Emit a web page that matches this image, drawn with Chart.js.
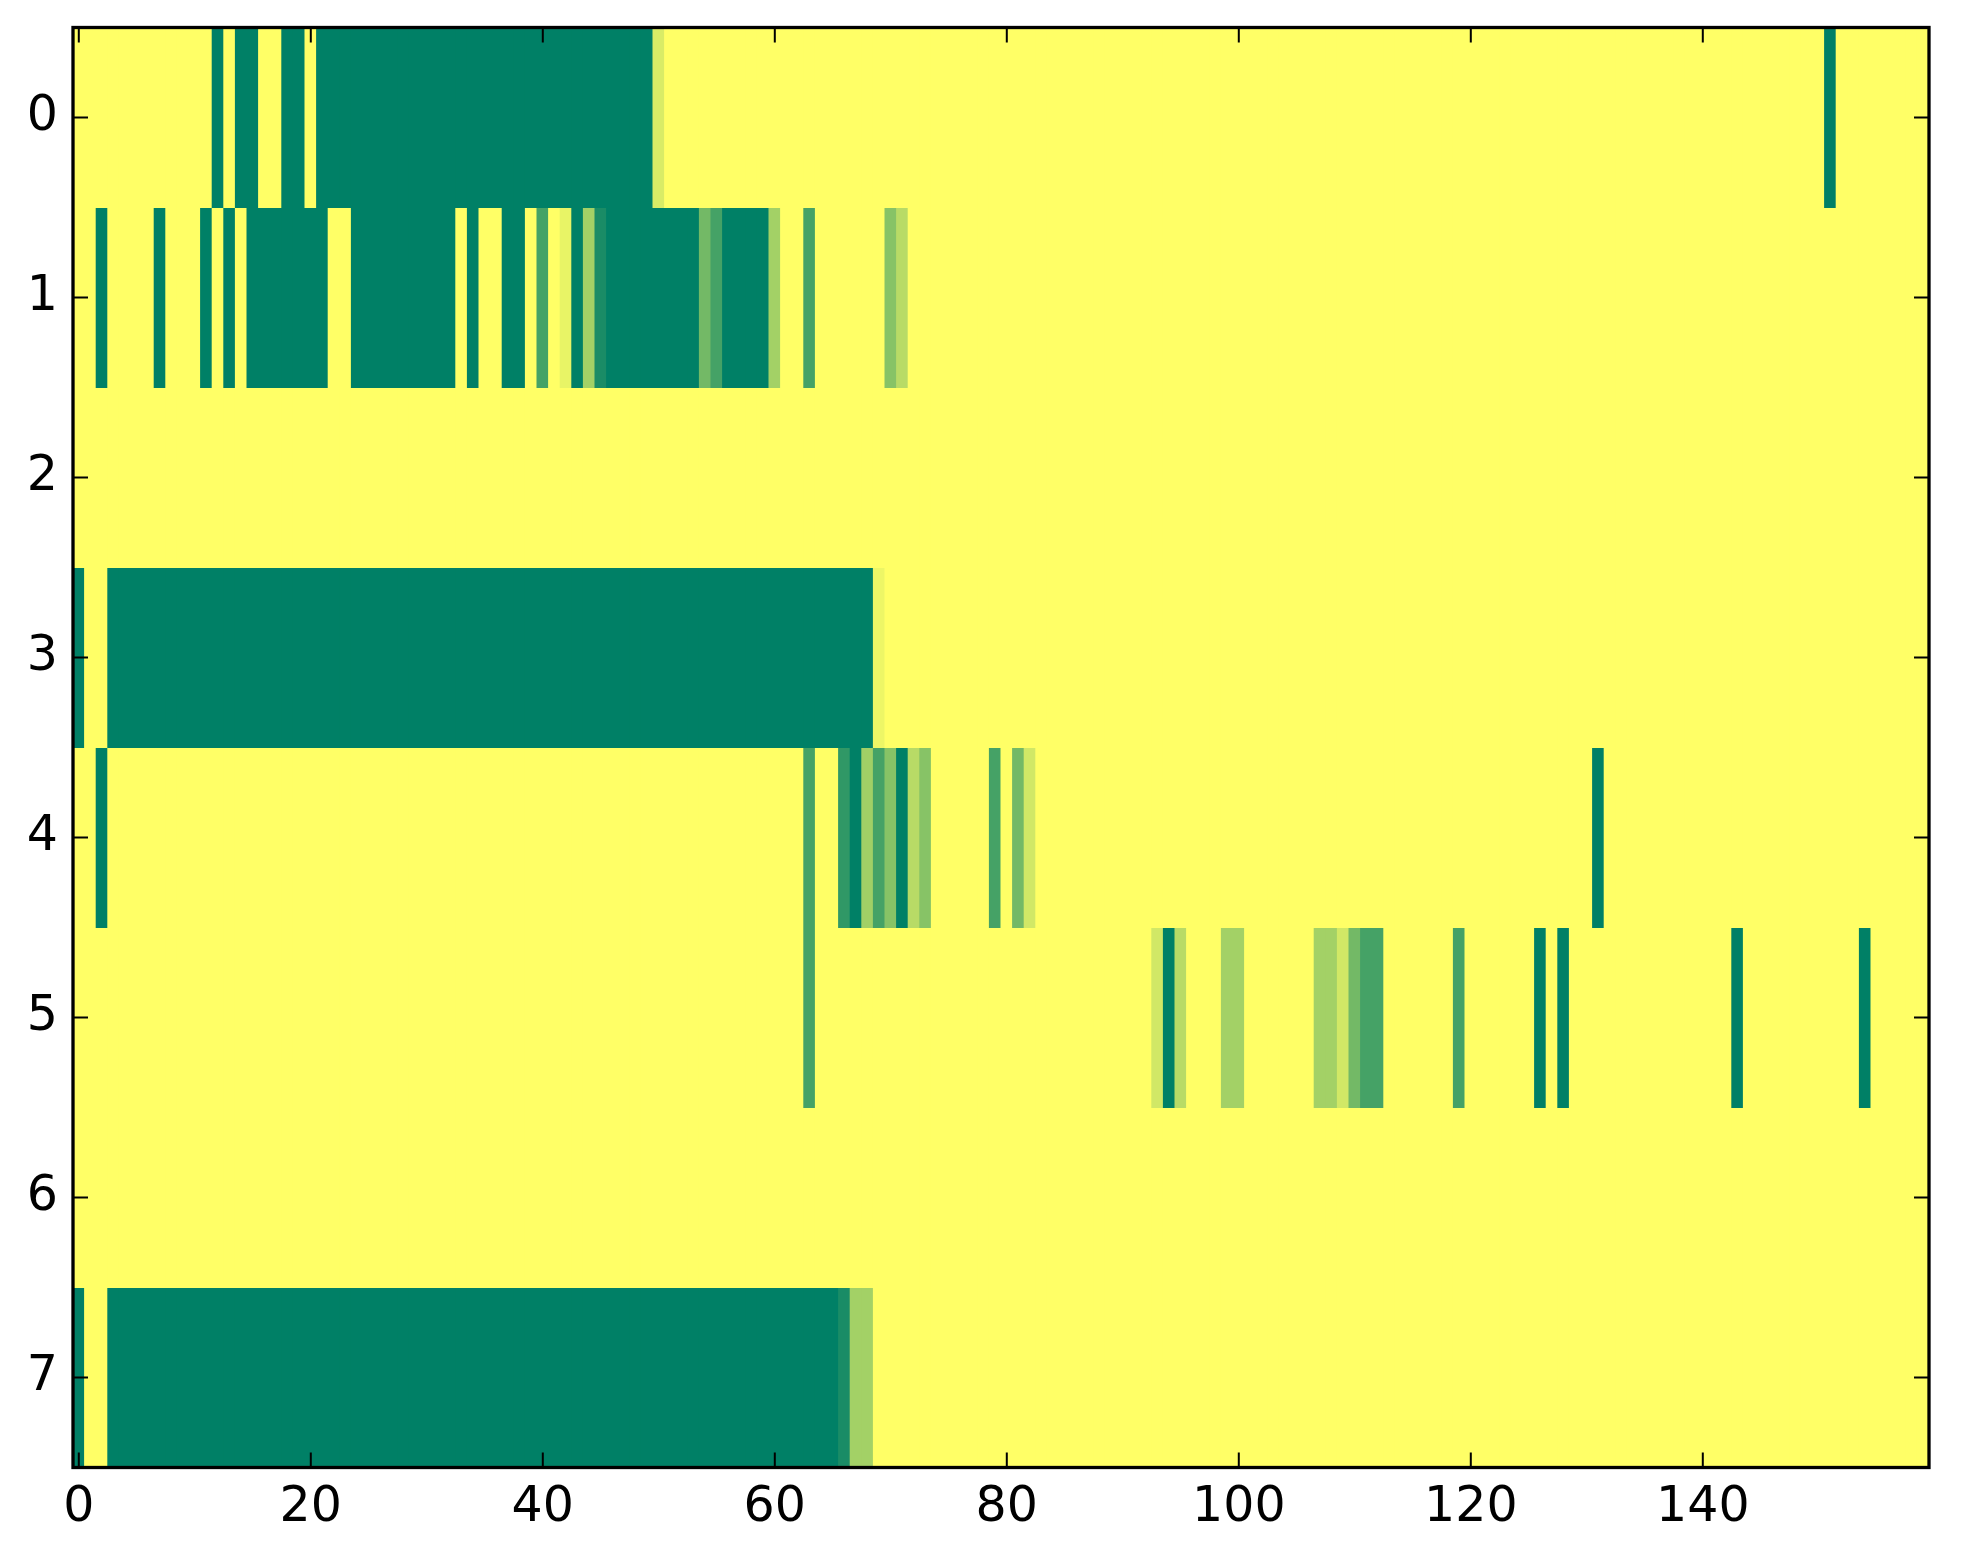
<!DOCTYPE html>
<html><head><meta charset="utf-8">
<script src="https://cdn.jsdelivr.net/npm/chart.js@4.4.1/dist/chart.umd.min.js"></script>
<style>html,body{margin:0;padding:0;background:#fff}canvas{display:block}</style>
</head><body>
<canvas id="c" width="1963" height="1564"></canvas>
<script>
// Row (y) tick labels and column (x) tick labels
const rowLabels = [0, 1, 2, 3, 4, 5, 6, 7];
const xTickValues = [0, 20, 40, 60, 80, 100, 120, 140];

// Cell values per row (0 = dark green, 1 = yellow), 160 columns each
const row0 = [
  1,1,1,1,1,1,1,1,1,1, 1,1,0,1,0,0,1,1,0,0,
  1,0,0,0,0,0,0,0,0,0, 0,0,0,0,0,0,0,0,0,0,
  0,0,0,0,0,0,0,0,0,0, 0.85,1,1,1,1,1,1,1,1,1,
  1,1,1,1,1,1,1,1,1,1, 1,1,1,1,1,1,1,1,1,1,
  1,1,1,1,1,1,1,1,1,1, 1,1,1,1,1,1,1,1,1,1,
  1,1,1,1,1,1,1,1,1,1, 1,1,1,1,1,1,1,1,1,1,
  1,1,1,1,1,1,1,1,1,1, 1,1,1,1,1,1,1,1,1,1,
  1,1,1,1,1,1,1,1,1,1, 1,0,1,1,1,1,1,1,1,1
];
const row1 = [
  1,1,0,1,1,1,1,0,1,1, 1,0,1,0,1,0,0,0,0,0,
  0,0,1,1,0,0,0,0,0,0, 0,0,0,1,0,1,1,0,0,1,
  0.27,1,0.91,0,0.64,0.1,0,0,0,0, 0,0,0,0,0.45,0.27,0,0,0,0,
  0.64,1,1,0.27,1,1,1,1,1,1, 0.53,0.72,1,1,1,1,1,1,1,1,
  1,1,1,1,1,1,1,1,1,1, 1,1,1,1,1,1,1,1,1,1,
  1,1,1,1,1,1,1,1,1,1, 1,1,1,1,1,1,1,1,1,1,
  1,1,1,1,1,1,1,1,1,1, 1,1,1,1,1,1,1,1,1,1,
  1,1,1,1,1,1,1,1,1,1, 1,1,1,1,1,1,1,1,1,1
];
const row2 = [
  1,1,1,1,1,1,1,1,1,1, 1,1,1,1,1,1,1,1,1,1,
  1,1,1,1,1,1,1,1,1,1, 1,1,1,1,1,1,1,1,1,1,
  1,1,1,1,1,1,1,1,1,1, 1,1,1,1,1,1,1,1,1,1,
  1,1,1,1,1,1,1,1,1,1, 1,1,1,1,1,1,1,1,1,1,
  1,1,1,1,1,1,1,1,1,1, 1,1,1,1,1,1,1,1,1,1,
  1,1,1,1,1,1,1,1,1,1, 1,1,1,1,1,1,1,1,1,1,
  1,1,1,1,1,1,1,1,1,1, 1,1,1,1,1,1,1,1,1,1,
  1,1,1,1,1,1,1,1,1,1, 1,1,1,1,1,1,1,1,1,1
];
const row3 = [
  0,1,1,0,0,0,0,0,0,0, 0,0,0,0,0,0,0,0,0,0,
  0,0,0,0,0,0,0,0,0,0, 0,0,0,0,0,0,0,0,0,0,
  0,0,0,0,0,0,0,0,0,0, 0,0,0,0,0,0,0,0,0,0,
  0,0,0,0,0,0,0,0,0,0.93, 1,1,1,1,1,1,1,1,1,1,
  1,1,1,1,1,1,1,1,1,1, 1,1,1,1,1,1,1,1,1,1,
  1,1,1,1,1,1,1,1,1,1, 1,1,1,1,1,1,1,1,1,1,
  1,1,1,1,1,1,1,1,1,1, 1,1,1,1,1,1,1,1,1,1,
  1,1,1,1,1,1,1,1,1,1, 1,1,1,1,1,1,1,1,1,1
];
const row4 = [
  1,1,0,1,1,1,1,1,1,1, 1,1,1,1,1,1,1,1,1,1,
  1,1,1,1,1,1,1,1,1,1, 1,1,1,1,1,1,1,1,1,1,
  1,1,1,1,1,1,1,1,1,1, 1,1,1,1,1,1,1,1,1,1,
  1,1,1,0.27,1,1,0.19,0,0.63,0.27, 0.53,0,0.72,0.53,1,1,1,1,1,0.27,
  1,0.45,0.82,1,1,1,1,1,1,1, 1,1,1,1,1,1,1,1,1,1,
  1,1,1,1,1,1,1,1,1,1, 1,1,1,1,1,1,1,1,1,1,
  1,1,1,1,1,1,1,1,1,1, 1,0,1,1,1,1,1,1,1,1,
  1,1,1,1,1,1,1,1,1,1, 1,1,1,1,1,1,1,1,1,1
];
const row5 = [
  1,1,1,1,1,1,1,1,1,1, 1,1,1,1,1,1,1,1,1,1,
  1,1,1,1,1,1,1,1,1,1, 1,1,1,1,1,1,1,1,1,1,
  1,1,1,1,1,1,1,1,1,1, 1,1,1,1,1,1,1,1,1,1,
  1,1,1,0.27,1,1,1,1,1,1, 1,1,1,1,1,1,1,1,1,1,
  1,1,1,1,1,1,1,1,1,1, 1,1,1,0.82,0,0.72,1,1,1,0.64,
  0.64,1,1,1,1,1,1,0.64,0.64,0.82, 0.45,0.27,0.27,1,1,1,1,1,1,0.27,
  1,1,1,1,1,1,0,1,0,1, 1,1,1,1,1,1,1,1,1,1,
  1,1,1,0,1,1,1,1,1,1, 1,1,1,1,0,1,1,1,1,1
];
const row6 = [
  1,1,1,1,1,1,1,1,1,1, 1,1,1,1,1,1,1,1,1,1,
  1,1,1,1,1,1,1,1,1,1, 1,1,1,1,1,1,1,1,1,1,
  1,1,1,1,1,1,1,1,1,1, 1,1,1,1,1,1,1,1,1,1,
  1,1,1,1,1,1,1,1,1,1, 1,1,1,1,1,1,1,1,1,1,
  1,1,1,1,1,1,1,1,1,1, 1,1,1,1,1,1,1,1,1,1,
  1,1,1,1,1,1,1,1,1,1, 1,1,1,1,1,1,1,1,1,1,
  1,1,1,1,1,1,1,1,1,1, 1,1,1,1,1,1,1,1,1,1,
  1,1,1,1,1,1,1,1,1,1, 1,1,1,1,1,1,1,1,1,1
];
const row7 = [
  0,1,1,0,0,0,0,0,0,0, 0,0,0,0,0,0,0,0,0,0,
  0,0,0,0,0,0,0,0,0,0, 0,0,0,0,0,0,0,0,0,0,
  0,0,0,0,0,0,0,0,0,0, 0,0,0,0,0,0,0,0,0,0,
  0,0,0,0,0,0,0.1,0.64,0.64,1, 1,1,1,1,1,1,1,1,1,1,
  1,1,1,1,1,1,1,1,1,1, 1,1,1,1,1,1,1,1,1,1,
  1,1,1,1,1,1,1,1,1,1, 1,1,1,1,1,1,1,1,1,1,
  1,1,1,1,1,1,1,1,1,1, 1,1,1,1,1,1,1,1,1,1,
  1,1,1,1,1,1,1,1,1,1, 1,1,1,1,1,1,1,1,1,1
];
const rows = [row0, row1, row2, row3, row4, row5, row6, row7];

// matplotlib "summer" colormap: (v, 0.5 + v/2, 0.4)
function summer(v) {
  const r = Math.round(255 * v);
  const g = Math.round(255 * (0.5 + 0.5 * v));
  return 'rgb(' + r + ',' + g + ',102)';
}

const datasets = rows.map((vals, r) => ({
  label: 'row ' + rowLabels[r],
  data: vals.map((v, c) => ({ x: c, y: [rowLabels[r] - 0.5, rowLabels[r] + 0.5] })),
  backgroundColor: vals.map(summer),
  borderWidth: 0,
  barPercentage: 1,
  categoryPercentage: 1,
  grouped: false,
  inflateAmount: 0.5
}));

const nCols = row0.length;

const framePlugin = {
  id: 'frame',
  afterDraw(chart) {
    const { ctx, chartArea: a, scales: { x, y } } = chart;
    ctx.save();
    ctx.strokeStyle = '#000';
    ctx.lineWidth = 2;
    const L = 15;
    ctx.beginPath();
    for (const v of xTickValues) {
      const px = x.getPixelForValue(v);
      ctx.moveTo(px, a.bottom); ctx.lineTo(px, a.bottom - L);
      ctx.moveTo(px, a.top); ctx.lineTo(px, a.top + L);
    }
    for (const v of rowLabels) {
      const py = y.getPixelForValue(v);
      ctx.moveTo(a.left, py); ctx.lineTo(a.left + L, py);
      ctx.moveTo(a.right, py); ctx.lineTo(a.right - L, py);
    }
    ctx.stroke();
    ctx.lineWidth = 3.3;
    ctx.strokeRect(a.left, a.top, a.right - a.left, a.bottom - a.top);
    ctx.restore();
  }
};

const font = { family: 'DejaVu Sans', size: 49 };

new Chart(document.getElementById('c').getContext('2d'), {
  type: 'bar',
  data: { datasets },
  options: {
    responsive: false,
    animation: false,
    devicePixelRatio: 1,
    layout: { padding: { top: 27.5, right: 34, left: 0, bottom: 0 } },
    plugins: { legend: { display: false }, tooltip: { enabled: false } },
    scales: {
      x: {
        type: 'linear', min: -0.5, max: nCols - 0.5, offset: false,
        grid: { display: false, drawTicks: false }, border: { display: false },
        afterBuildTicks: s => { s.ticks = xTickValues.map(v => ({ value: v })); },
        afterFit: s => { s.height = 96.5; s.paddingLeft = 0; s.paddingRight = 0; },
        ticks: { font, color: '#000', padding: 11, maxRotation: 0, autoSkip: false }
      },
      y: {
        type: 'linear', min: -0.5, max: rowLabels.length - 0.5, reverse: true,
        grid: { display: false, drawTicks: false }, border: { display: false },
        afterBuildTicks: s => { s.ticks = rowLabels.map(v => ({ value: v })); },
        afterFit: s => { s.width = 73; s.paddingTop = 0; s.paddingBottom = 0; },
        ticks: { font, color: '#000', padding: 15, autoSkip: false }
      }
    }
  },
  plugins: [framePlugin]
});
</script>
</body></html>
